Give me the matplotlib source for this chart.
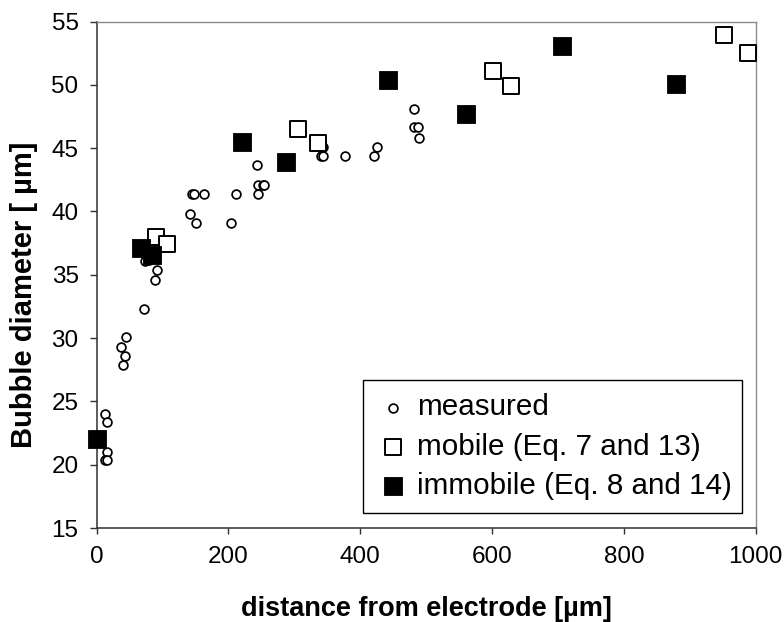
import matplotlib
matplotlib.use("Agg")
import matplotlib.pyplot as plt

plt.rcParams['font.family'] = ['Liberation Sans', 'DejaVu Sans']

# measured bubble diameters
measured_x = [13, 15, 15, 13, 16, 37, 43, 40, 45, 72, 89, 92, 74, 80,
              142, 150, 204, 144, 147, 163, 212, 245, 245, 252, 254, 243,
              341, 344, 344, 377, 421, 426, 481, 481, 487, 489]
measured_y = [24.0, 23.4, 21.0, 20.4, 20.4, 29.3, 28.6, 27.9, 30.1, 32.3, 34.6, 35.4, 36.1, 36.2,
              39.8, 39.1, 39.1, 41.4, 41.4, 41.4, 41.4, 41.4, 42.1, 42.1, 42.1, 43.7,
              44.4, 44.4, 45.1, 44.4, 44.4, 45.1, 48.1, 46.7, 46.7, 45.8]

# mobile interface model (Eq. 7 and 13)
mobile_x = [90, 107, 306, 336, 602, 629, 952, 988]
mobile_y = [38.0, 37.4, 46.5, 45.4, 51.1, 49.9, 53.9, 52.5]

# immobile interface model (Eq. 8 and 14)
immobile_x = [0, 67, 84, 221, 287, 442, 560, 706, 879]
immobile_y = [22.0, 37.1, 36.6, 45.5, 43.9, 50.4, 47.7, 53.1, 50.1]

labels = ['measured', 'mobile (Eq. 7 and 13)', 'immobile (Eq. 8 and 14)']
x_ticks = [0, 200, 400, 600, 800, 1000]
y_ticks = [15, 20, 25, 30, 35, 40, 45, 50, 55]

fig = plt.figure(figsize=(7.84, 6.22), dpi=100)
ax = fig.add_axes([0.1233, 0.151, 0.8406, 0.8144])

ax.scatter(measured_x, measured_y, s=40, marker='o', facecolors='white',
           edgecolors='black', linewidths=1.25, label=labels[0], zorder=3, clip_on=False)
ax.scatter(mobile_x, mobile_y, s=145, marker='s', facecolors='white',
           edgecolors='black', linewidths=1.4, label=labels[1], zorder=4, clip_on=False)
ax.scatter(immobile_x, immobile_y, s=165, marker='s', facecolors='black',
           edgecolors='black', linewidths=0.6, label=labels[2], zorder=5, clip_on=False)

ax.set_xlim(0, 1000)
ax.set_ylim(15, 55)
ax.set_xticks(x_ticks)
ax.set_yticks(y_ticks)

for side in ['left', 'bottom']:
    ax.spines[side].set_color('#303030')
    ax.spines[side].set_linewidth(1.1)
for side in ['top', 'right']:
    ax.spines[side].set_color('#8c8c8c')
    ax.spines[side].set_linewidth(1.0)

ax.tick_params(axis='y', direction='out', length=5, width=1.0, color='#303030',
               labelsize=17.5, pad=8)
ax.tick_params(axis='x', direction='out', length=4, width=1.0, color='#303030',
               labelsize=17.5, pad=9)

ax.set_xlabel('distance from electrode [\u00b5m]', fontsize=19.5, fontweight='bold', va='center')
ax.xaxis.set_label_coords(0.5, -0.16)
ax.set_ylabel('Bubble diameter [ \u00b5m]', fontsize=21, fontweight='bold', va='center')
ax.yaxis.set_label_coords(-0.111, 0.46)

leg = ax.legend(loc='center left', bbox_to_anchor=(0.404, 0.0158, 0.575, 0.290),
                mode='expand', fontsize=21.3, frameon=True, fancybox=False,
                borderpad=0.45, labelspacing=0.38, handlelength=1.15,
                handletextpad=0.24, borderaxespad=0.0, scatterpoints=1)
leg.get_frame().set_edgecolor('black')
leg.get_frame().set_linewidth(1.0)
leg.get_frame().set_alpha(None)
leg.get_frame().set_facecolor('white')

fig.savefig('out.png', dpi=100)
